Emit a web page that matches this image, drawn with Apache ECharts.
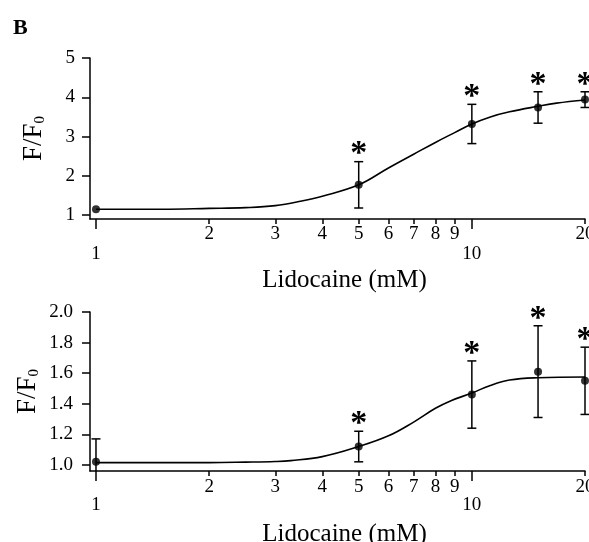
<!DOCTYPE html>
<html>
<head>
<meta charset="utf-8">
<script src="https://cdn.jsdelivr.net/npm/echarts@6/dist/echarts.min.js"></script>
<style>
  html, body { margin: 0; padding: 0; background: #fff; }
  #chart { width: 589px; height: 542px; }
</style>
</head>
<body>
<div id="chart"></div>
<script>
// lidocaine concentrations (mM) and mean F/F0 +- error
const topConc = [1, 5, 10, 15, 20]
const topMean = [1.15, 1.77, 3.32, 3.74, 3.94]
const topErr = [0, 0.59, 0.5, 0.4, 0.2]
const topStar = [0, 1, 1, 1, 1]

const bottomConc = [1, 5, 10, 15, 20]
const bottomMean = [1.02, 1.12, 1.46, 1.61, 1.55]
const bottomErr = [0.15, 0.1, 0.22, 0.3, 0.22]
const bottomStar = [0, 1, 1, 1, 1]

// fitted curves
const topCurveX = [1, 1.5, 2, 2.5, 3, 3.5, 4, 5, 6, 7, 8, 9, 10, 11.2, 12.6, 15, 16.8, 20]
const topCurveY = [1.15, 1.15, 1.17, 1.19, 1.24, 1.35, 1.48, 1.77, 2.2, 2.55, 2.85, 3.1, 3.32, 3.5, 3.63, 3.77, 3.85, 3.93]
const bottomCurveX = [1, 2, 2.5, 3, 3.3, 4, 5, 6, 7, 8, 8.8, 10, 11.2, 12.6, 15, 20]
const bottomCurveY = [1.015, 1.015, 1.018, 1.022, 1.028, 1.054, 1.12, 1.19, 1.28, 1.37, 1.42, 1.47, 1.52, 1.555, 1.57, 1.575]

// tick labels
const majorTicks = [1, 10]
const minorTicks = [2, 3, 4, 5, 6, 7, 8, 9, 20]
const topYTicks = [1, 2, 3, 4, 5]
const bottomYTicks = [1.0, 1.2, 1.4, 1.6, 1.8, 2.0]

const FONT = '"Liberation Serif", "Times New Roman", serif'
const X_MIN = 0.964
const X_MAX = 20

const nameRich = {
  a: { fontSize: 27, fontFamily: FONT, color: '#000' },
  b: { fontSize: 15, fontFamily: FONT, color: '#000', padding: [14, 0, 0, 0] }
}

function xAxes(gridIndex, majorMargin, minorMargin, nameGap) {
  const base = {
    type: 'log',
    gridIndex: gridIndex,
    position: 'bottom',
    min: X_MIN,
    max: X_MAX,
    splitLine: { show: false },
    minorTick: { show: false },
    axisLine: { show: true, onZero: false, lineStyle: { color: '#000', width: 1.5 } },
  }
  return [
    Object.assign({}, base, {
      name: 'Lidocaine (mM)',
      nameLocation: 'middle',
      nameGap: nameGap,
      nameMoveOverlap: false,
      nameTextStyle: { fontSize: 25, fontFamily: FONT, color: '#000', padding: [0, 0, 0, 14] },
      axisTick: { customValues: majorTicks, length: 10, lineStyle: { color: '#000', width: 1.5 } },
      axisLabel: {
        customValues: majorTicks, margin: majorMargin,
        fontSize: 19, fontFamily: FONT, color: '#000',
        formatter: (v) => String(Math.round(v))
      }
    }),
    Object.assign({}, base, {
      axisLine: { show: false },
      axisTick: { customValues: minorTicks, length: 5, lineStyle: { color: '#000', width: 1.5 } },
      axisLabel: {
        customValues: minorTicks, margin: minorMargin,
        fontSize: 19, fontFamily: FONT, color: '#000',
        formatter: (v) => String(Math.round(v))
      }
    })
  ]
}

function yAxis(gridIndex, min, max, ticks, digits, margin, nameGap) {
  return {
    type: 'value',
    gridIndex: gridIndex,
    min: min,
    max: max,
    name: '{a|F/F}{b|0}',
    nameLocation: 'middle',
    nameGap: nameGap,
    nameRotate: 90,
    nameMoveOverlap: false,
    nameTextStyle: { rich: nameRich },
    splitLine: { show: false },
    axisLine: { show: true, onZero: false, lineStyle: { color: '#000', width: 1.5 } },
    axisTick: { customValues: ticks, length: 8, lineStyle: { color: '#000', width: 1.5 } },
    axisLabel: {
      customValues: ticks, margin: margin,
      fontSize: 19, fontFamily: FONT, color: '#000',
      formatter: (v) => v.toFixed(digits)
    }
  }
}

function errorSeries(xAxisIndex, yAxisIndex, conc, mean, err, star, yMin) {
  return {
    type: 'custom',
    xAxisIndex: xAxisIndex,
    yAxisIndex: yAxisIndex,
    clip: false,
    silent: true,
    z: 5,
    data: conc.map((c, i) => [c, mean[i], err[i], star[i]]),
    renderItem: function (params, api) {
      const x = api.value(0)
      const m = api.value(1)
      const e = api.value(2)
      const s = api.value(3)
      const hi = api.coord([x, m + e])
      const lo = api.coord([x, Math.max(m - e, yMin)])
      const children = []
      const style = { stroke: '#000', lineWidth: 1.5 }
      if (e > 0) {
        children.push({ type: 'line', shape: { x1: hi[0], y1: hi[1], x2: lo[0], y2: lo[1] }, style: style })
        children.push({ type: 'line', shape: { x1: hi[0] - 4.5, y1: hi[1], x2: hi[0] + 4.5, y2: hi[1] }, style: style })
        if (m - e > yMin) {
          children.push({ type: 'line', shape: { x1: lo[0] - 4.5, y1: lo[1], x2: lo[0] + 4.5, y2: lo[1] }, style: style })
        }
      }
      if (s) {
        children.push({
          type: 'text',
          style: {
            text: '*', x: hi[0], y: hi[1] - 7,
            align: 'center', verticalAlign: 'middle',
            font: 'bold 34px ' + FONT, fill: '#000'
          }
        })
      }
      return { type: 'group', children: children }
    }
  }
}

function curveSeries(xAxisIndex, yAxisIndex, xs, ys) {
  return {
    type: 'line',
    xAxisIndex: xAxisIndex,
    yAxisIndex: yAxisIndex,
    data: xs.map((x, i) => [x, ys[i]]),
    smooth: 0.4,
    showSymbol: false,
    silent: true,
    lineStyle: { color: '#000', width: 1.6 }
  }
}

function pointSeries(xAxisIndex, yAxisIndex, conc, mean) {
  return {
    type: 'scatter',
    xAxisIndex: xAxisIndex,
    yAxisIndex: yAxisIndex,
    data: conc.map((c, i) => [c, mean[i]]),
    symbol: 'circle',
    symbolSize: 8,
    itemStyle: { color: '#000' },
    z: 6
  }
}

const chart = echarts.init(document.getElementById('chart'))

const options = {
  backgroundColor: '#fff',
  animation: false,
  graphic: [{
    type: 'text', left: 13, top: 17,
    style: { text: 'B', font: 'bold 22px ' + FONT, fill: '#000' }
  }],
  grid: [
    { left: 90, top: 58, width: 495, height: 161, outerBoundsMode: 'none' },
    { left: 90, top: 312, width: 495, height: 159, outerBoundsMode: 'none' }
  ],
  xAxis: [].concat(xAxes(0, 26, 6, 49), xAxes(1, 25, 7, 51)),
  yAxis: [
    yAxis(0, 0.9, 5, topYTicks, 0, 15, 42),
    yAxis(1, 0.96, 2.0, bottomYTicks, 1, 17, 48)
  ],
  series: [
    curveSeries(0, 0, topCurveX, topCurveY),
    errorSeries(0, 0, topConc, topMean, topErr, topStar, 0.9),
    pointSeries(0, 0, topConc, topMean),
    curveSeries(2, 1, bottomCurveX, bottomCurveY),
    errorSeries(2, 1, bottomConc, bottomMean, bottomErr, bottomStar, 0.96),
    pointSeries(2, 1, bottomConc, bottomMean)
  ]
}

chart.setOption(options)
</script>
</body>
</html>
